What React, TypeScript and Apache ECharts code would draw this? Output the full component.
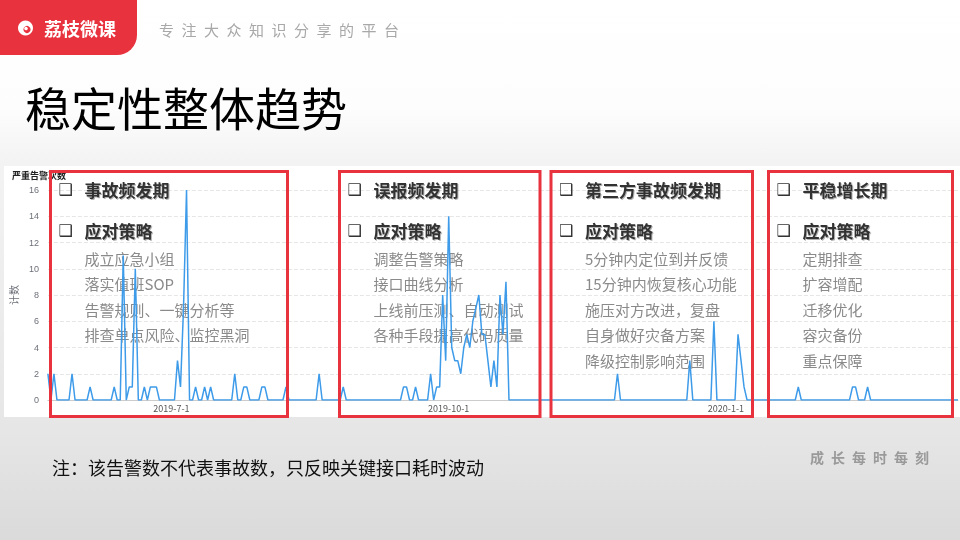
import React, { useEffect, useRef } from 'react';
import * as echarts from 'echarts';

// ---------- data ----------
const chartTitle = '严重告警次数';
const yAxisName = '计数';
const startDate = [2019, 5, 21];
const endDate = [2020, 3, 18];
const xTickLabels = ['2019-7-1', '2019-10-1', '2020-1-1'];
const yMin = 0;
const yMax = 16;
const yInterval = 2;

// days with a non-zero alert count (all other days read as 0)
const alertDates = [
  '2019-5-21', '2019-5-23', '2019-5-29', '2019-6-4', '2019-6-12', '2019-6-15',
  '2019-6-17', '2019-6-18', '2019-6-19', '2019-6-22', '2019-6-24', '2019-6-25',
  '2019-6-26', '2019-7-3', '2019-7-4', '2019-7-5', '2019-7-6', '2019-7-9',
  '2019-7-12', '2019-7-14', '2019-7-22', '2019-7-25', '2019-7-26', '2019-7-31',
  '2019-8-1', '2019-8-8', '2019-8-19', '2019-8-27', '2019-9-16', '2019-9-17',
  '2019-9-20', '2019-9-25', '2019-9-27', '2019-9-28', '2019-9-29', '2019-9-30',
  '2019-10-1', '2019-10-2', '2019-10-3', '2019-10-4', '2019-10-5', '2019-10-6',
  '2019-10-7', '2019-10-8', '2019-10-9', '2019-10-10', '2019-10-11', '2019-10-12',
  '2019-10-13', '2019-10-14', '2019-10-15', '2019-10-16', '2019-10-17', '2019-10-18',
  '2019-10-19', '2019-10-20', '2019-11-26', '2019-12-20', '2019-12-28', '2020-1-5',
  '2020-1-6', '2020-1-7', '2020-1-25', '2020-2-12', '2020-2-13', '2020-2-17',
];
const alertCounts = [
  2, 2, 2, 1, 1, 11,
  1, 1, 10, 1, 1, 1,
  1, 3, 1, 7, 16, 1,
  1, 1, 2, 1, 1, 1,
  1, 1, 2, 1, 1, 1,
  1, 2, 1, 1, 8, 3,
  14, 4, 3, 3, 2, 4,
  5, 4, 6, 7, 8, 5,
  5, 3, 1, 3, 1, 8,
  5, 9, 2, 3, 6, 5,
  3, 1, 1, 1, 1, 1,
];

const pageTitle = '稳定性整体趋势';
const brandName = '荔枝微课';
const slogan = '专注大众知识分享的平台';
const motto = '成长每时每刻';
const footNote = '注：该告警数不代表事故数，只反映关键接口耗时波动';
const checkMark = '❑';
const strategyLabel = '应对策略';
const phaseTitles = ['事故频发期', '误报频发期', '第三方事故频发期', '平稳增长期'];
const phase1Items = ['成立应急小组', '落实值班SOP', '告警规则、一键分析等', '排查单点风险、监控黑洞'];
const phase2Items = ['调整告警策略', '接口曲线分析', '上线前压测、自动测试', '各种手段提高代码质量'];
const phase3Items = ['5分钟内定位到并反馈', '15分钟内恢复核心功能', '施压对方改进，复盘', '自身做好灾备方案', '降级控制影响范围'];
const phase4Items = ['定期排查', '扩容增配', '迁移优化', '容灾备份', '重点保障'];
const phaseItems = [phase1Items, phase2Items, phase3Items, phase4Items];

// ---------- helpers ----------
function buildCategories(): string[] {
  const out: string[] = [];
  let t = Date.UTC(startDate[0], startDate[1] - 1, startDate[2]);
  const end = Date.UTC(endDate[0], endDate[1] - 1, endDate[2]);
  while (t <= end) {
    const d = new Date(t);
    out.push(`${d.getUTCFullYear()}-${d.getUTCMonth() + 1}-${d.getUTCDate()}`);
    t += 86400000;
  }
  return out;
}

const CJK = "'Noto Sans CJK SC', 'Noto Sans', sans-serif";
const RED = '#e8323e';

function txt(text: string, x: number, y: number, size: number, fill: string, opts: any = {}) {
  return {
    type: 'text',
    x,
    y,
    z: opts.z ?? 3,
    style: {
      text,
      fontSize: size,
      fontFamily: opts.family ?? CJK,
      fontWeight: opts.weight ?? 'normal',
      fill,
      align: opts.align ?? 'left',
      verticalAlign: 'middle',
      textAlign: opts.align ?? 'left',
      textVerticalAlign: 'middle',
      ...(opts.shadow
        ? { textShadowColor: 'rgba(0,0,0,0.3)', textShadowBlur: 1, textShadowOffsetX: 1, textShadowOffsetY: 1 }
        : {}),
    },
  };
}

export default function App() {
  const ref = useRef<HTMLDivElement>(null);

  useEffect(() => {
    if (!ref.current) return;
    const chart = echarts.init(ref.current, undefined, { renderer: 'svg' });

    const categories = buildCategories();
    const countMap: Record<string, number> = {};
    alertDates.forEach((d, i) => (countMap[d] = alertCounts[i]));
    const values = categories.map((c) => countMap[c] ?? 0);

    const boxes = [
      [50.5, 287.5],
      [339.5, 540],
      [551, 752.5],
      [768.5, 952.5],
    ];
    const boxTop = 171.5;
    const boxBottom = 416.5;

    const graphics: any[] = [
      {
        type: 'rect',
        z: -100,
        shape: { x: 0, y: 0, width: 960, height: 540 },
        style: {
          fill: new echarts.graphic.LinearGradient(0, 0, 0, 1, [
            { offset: 0, color: '#ffffff' },
            { offset: 0.2, color: '#fdfdfd' },
            { offset: 0.3, color: '#f3f3f3' },
            { offset: 0.8, color: '#e6e6e6' },
            { offset: 1, color: '#dadada' },
          ]),
        },
      },
      {
        type: 'rect',
        z: -50,
        shape: { x: 4, y: 166, width: 956, height: 251 },
        style: { fill: '#ffffff' },
      },
      {
        type: 'rect',
        z: 5,
        shape: { x: 0, y: 0, width: 137, height: 55, r: [0, 0, 20, 0] },
        style: { fill: RED },
      },
      { type: 'circle', z: 6, shape: { cx: 25.5, cy: 28, r: 7.5 }, style: { fill: '#ffffff' } },
      { type: 'circle', z: 7, shape: { cx: 27, cy: 29.5, r: 3.6 }, style: { fill: RED } },
      { type: 'circle', z: 8, shape: { cx: 26, cy: 28.5, r: 1.8 }, style: { fill: '#ffffff' } },
      txt(brandName, 44, 28, 18, '#ffffff', { weight: 'bold', z: 8 }),
      txt(slogan.split('').join('\u2002'), 159, 29, 15, '#a8a8a8'),
      txt(pageTitle, 25, 106, 46, '#000000'),
      txt(footNote, 52, 467, 18, '#111111'),
      txt(motto.split('').join('\u2002'), 810, 457, 14, '#9a9a9a', { weight: 'bold' }),
    ];

    boxes.forEach(([x0, x1], i) => {
      graphics.push({
        type: 'rect',
        z: 10,
        shape: { x: x0, y: boxTop, width: x1 - x0, height: boxBottom - boxTop },
        style: { fill: 'none', stroke: RED, lineWidth: 3 },
      });
      const cx = x0 + 8;
      const tx = x0 + 34;
      graphics.push(txt(checkMark, cx, 189, 16, '#333333', { family: "'DejaVu Sans', sans-serif", weight: 'bold' }));
      graphics.push(txt(phaseTitles[i], tx, 189, 17, '#333333', { weight: 'bold', shadow: true }));
      graphics.push(txt(checkMark, cx, 230, 16, '#333333', { family: "'DejaVu Sans', sans-serif", weight: 'bold' }));
      graphics.push(txt(strategyLabel, tx, 230, 17, '#333333', { weight: 'bold', shadow: true }));
      phaseItems[i].forEach((item, k) => {
        graphics.push(txt(item, tx, 258 + k * 25.5, 15, '#8a8a8a'));
      });
    });

    chart.setOption({
      animation: false,
      title: {
        text: chartTitle,
        left: 7,
        top: 166,
        textStyle: { fontSize: 9, fontWeight: 'bold', color: '#222222', fontFamily: CJK },
      },
      grid: { left: 42, right: 2, top: 190, bottom: 140 },
      xAxis: {
        type: 'category',
        data: categories,
        boundaryGap: false,
        axisLine: { lineStyle: { color: '#cccccc' } },
        axisTick: { show: false },
        axisLabel: {
          interval: (_i: number, v: string) => xTickLabels.includes(v),
          fontSize: 9,
          color: '#555555',
          margin: 4,
          fontFamily: CJK,
        },
        splitLine: { show: false },
      },
      yAxis: {
        type: 'value',
        min: yMin,
        max: yMax,
        interval: yInterval,
        name: yAxisName,
        nameLocation: 'middle',
        nameRotate: 90,
        nameGap: 27,
        nameTextStyle: { fontSize: 10, color: '#6e7079', fontFamily: CJK },
        axisLine: { show: false },
        axisTick: { show: false },
        axisLabel: { fontSize: 9, color: '#6e7079', margin: 9 },
        splitLine: { lineStyle: { type: 'dashed', color: '#e6e6e6' } },
      },
      series: [
        {
          type: 'line',
          data: values,
          symbol: 'none',
          showSymbol: false,
          z: 5,
          lineStyle: { width: 1.5, color: '#3d9be9' },
        },
      ],
      graphic: graphics,
    });

    return () => chart.dispose();
  }, []);

  return (
    <div
      ref={ref}
      style={{ position: 'fixed', left: 0, top: 0, width: 960, height: 540 }}
    />
  );
}
